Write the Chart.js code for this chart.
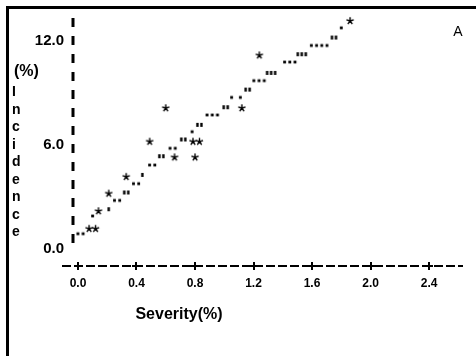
<!DOCTYPE html>
<html>
<head>
<meta charset="utf-8">
<script src="https://cdn.jsdelivr.net/npm/chart.js@4/dist/chart.umd.min.js"></script>
<style>
  html, body { margin: 0; padding: 0; background: #fff; }
  canvas { display: block; }
</style>
</head>
<body>
<canvas id="scatterChart" width="476" height="356"></canvas>
<script>
// values
const severity = [0.02, 0.10, 0.10, 0.14, 0.21, 0.21, 0.27, 0.33, 0.33, 0.40, 0.44,
    0.60, 0.49, 0.51, 0.57, 0.66, 0.65, 0.72, 0.81, 0.80, 0.78, 0.83, 0.92, 1.01,
    1.12, 1.05, 1.11, 1.16, 1.24, 1.32, 1.24, 1.45, 1.53, 1.65, 1.75, 1.80, 1.86];
const incidence = [0.85, 1.14, 1.88, 2.16, 2.27, 3.18, 2.78, 3.24, 4.15, 3.75, 4.26,
    8.13, 6.19, 4.83, 5.34, 5.28, 5.80, 6.31, 6.19, 5.28, 6.76, 7.16, 7.73, 8.18,
    8.13, 8.75, 8.75, 9.20, 9.72, 10.17, 11.19, 10.80, 11.25, 11.76, 12.22, 12.78, 13.18];
const marks = ['..', '**', '.', '*', "'", '*', '..', '"', '*', '..', "'",
    '*', '*', '..', '"', '*', '..', '"', '**', '*', '.', '"', '...', '"',
    '*', '.', '.', '"', '...', "'''", '*', '...', "'''", '....', '"', '.', '*'];
const xTicks = [0.0, 0.4, 0.8, 1.2, 1.6, 2.0, 2.4];
const yTicks = [0.0, 6.0, 12.0];
const yLetters = ['I', 'n', 'c', 'i', 'd', 'e', 'n', 'c', 'e'];

// line-printer style glyphs used as point styles
function glyph(mark) {
    const chars = mark.replace(/"/g, "''").split('');
    const step = { '*': 6.5, '.': 5.2, "'": 4 }[chars[0]];
    const size = chars[0] === '*' ? 8 : 3;
    const c = document.createElement('canvas');
    c.width = Math.ceil(step * (chars.length - 1) + size + 2);
    c.height = 10;
    const g = c.getContext('2d');
    g.fillStyle = '#000';
    g.strokeStyle = '#000';
    chars.forEach((ch, i) => {
        const cx = 1 + size / 2 + i * step;
        const cy = 5;
        if (ch === '.') {
            g.fillRect(cx - 1.4, cy - 1.4, 2.8, 2.8);
        } else if (ch === "'") {
            g.fillRect(cx - 1.2, cy - 2, 2.4, 4);
        } else {
            g.lineWidth = 1.4;
            g.beginPath();
            for (let k = 0; k < 5; k++) {
                const a = -Math.PI / 2 + k * 2 * Math.PI / 5;
                g.moveTo(cx, cy);
                g.lineTo(cx + 3.8 * Math.cos(a), cy + 3.8 * Math.sin(a));
            }
            g.stroke();
        }
    });
    return c;
}

const decor = {
    id: 'decor',
    beforeDraw(chart) {
        const ctx = chart.ctx;
        ctx.save();
        ctx.fillStyle = '#fff';
        ctx.fillRect(0, 0, chart.width, chart.height);
        ctx.fillStyle = '#000';
        ctx.fillRect(6, 6, 3, chart.height - 6);
        ctx.fillRect(6, 6, chart.width - 6, 3);
        ctx.restore();
    },
    beforeDatasetsDraw(chart) {
        // dashed axis lines like the printout
        const ctx = chart.ctx;
        const area = chart.chartArea;
        const x = chart.scales.x;
        const y = chart.scales.y;
        ctx.save();
        ctx.strokeStyle = '#000';
        ctx.lineWidth = 3;
        ctx.setLineDash([9, 9]);
        ctx.beginPath();
        ctx.moveTo(area.left, area.top);
        ctx.lineTo(area.left, y.getPixelForValue(-0.2));
        ctx.stroke();
        ctx.lineWidth = 2;
        ctx.setLineDash([9, 3]);
        ctx.beginPath();
        ctx.moveTo(area.left - 11, area.bottom);
        ctx.lineTo(area.right, area.bottom);
        ctx.stroke();
        // "+" at every tick
        ctx.setLineDash([]);
        xTicks.forEach(v => {
            const px = Math.round(x.getPixelForValue(v));
            ctx.beginPath();
            ctx.moveTo(px, area.bottom - 4);
            ctx.lineTo(px, area.bottom + 4);
            ctx.moveTo(px - 4, area.bottom);
            ctx.lineTo(px + 4, area.bottom);
            ctx.stroke();
        });
        ctx.restore();
    },
    afterDraw(chart) {
        const ctx = chart.ctx;
        ctx.save();
        ctx.fillStyle = '#000';
        ctx.textBaseline = 'middle';
        ctx.textAlign = 'left';
        ctx.font = 'bold 16px "Liberation Sans", Arial, sans-serif';
        ctx.fillText('(%)', 14, 72);
        ctx.font = 'bold 14px "Liberation Sans", Arial, sans-serif';
        ctx.textBaseline = 'alphabetic';
        yLetters.forEach((l, i) => ctx.fillText(l, 12, 96 + i * 17.5));
        ctx.textAlign = 'center';
        ctx.textBaseline = 'middle';
        ctx.font = 'bold 16px "Liberation Sans", Arial, sans-serif';
        ctx.fillText('Severity(%)', 179, 315);
        ctx.font = '14px "Liberation Sans", Arial, sans-serif';
        ctx.fillText('A', 458, 32);
        ctx.restore();
    }
};

const CHART = document.getElementById('scatterChart');

let scatterChart = new Chart(CHART, {
    type: 'scatter',
    data: {
        datasets: [{
            data: severity.map((x, i) => ({ x: x, y: incidence[i] })),
            pointStyle: marks.map(glyph),
            pointRadius: 4,
            clip: false
        }]
    },
    options: {
        responsive: false,
        devicePixelRatio: 1,
        animation: false,
        events: [],
        layout: { padding: { top: 13, left: 33, right: 13, bottom: 60 } },
        plugins: { legend: { display: false }, tooltip: { enabled: false } },
        scales: {
            x: {
                type: 'linear',
                min: -0.034,
                max: 2.632,
                afterBuildTicks: s => { s.ticks = xTicks.map(v => ({ value: v })); },
                afterFit: s => { s.height = 30; },
                border: { display: false },
                grid: { display: false, drawTicks: true, tickLength: 5 },
                ticks: {
                    color: '#000',
                    padding: 5,
                    font: { family: '"Liberation Sans", Arial', size: 12, weight: 'bold' },
                    callback: v => v.toFixed(1)
                }
            },
            y: {
                type: 'linear',
                min: -1.02,
                max: 13.35,
                afterBuildTicks: s => { s.ticks = yTicks.map(v => ({ value: v })); },
                afterFit: s => { s.width = 40; },
                border: { display: false },
                grid: { display: false, drawTicks: false },
                ticks: {
                    color: '#000',
                    padding: 9,
                    font: { family: '"Liberation Sans", Arial', size: 15, weight: 'bold' },
                    callback: v => v.toFixed(1)
                }
            }
        }
    },
    plugins: [decor]
});
</script>
</body>
</html>
